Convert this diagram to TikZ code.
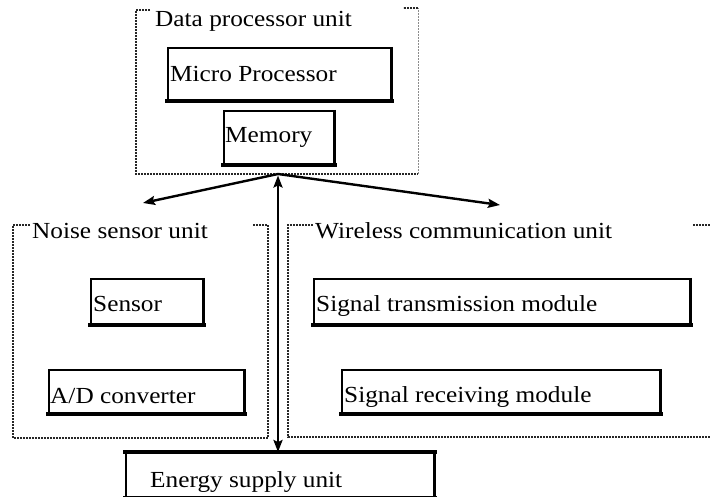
\documentclass[tikz,border=0pt]{standalone}
\usepackage{fontspec}
\setmainfont[FakeStretch=1.1]{Liberation Serif}
\usetikzlibrary{arrows.meta}
\begin{document}
\begin{tikzpicture}[x=1pt,y=-1pt,
  txt/.style={inner sep=0pt, anchor=base west, font=\fontsize{23}{27}\selectfont},
  box/.style={draw, line width=1.8pt, fill=white, anchor=north west, inner sep=0pt},
  heavy/.style={line width=3.6pt, line cap=rect},
  side/.style={line width=2.6pt},
  frame/.style={draw=black!85, line width=1.8pt, dash pattern=on 1.6pt off 1.4pt},
  faint/.style={draw=black!45, line width=1pt, dash pattern=on 1.6pt off 1.4pt},
  conn/.style={line width=2.4pt, draw=black},
  >={Stealth[length=12pt, width=9pt, inset=2pt]}]
\useasboundingbox (0,0) rectangle (710,497);
\clip (0,0) rectangle (710,497);

% --- dotted unit frames (open at the top) ---
\draw[frame] (150,10) -- (136,10) -- (136,174) -- (418,174);
\draw[faint] (418,174) -- (418,8);
\draw[frame] (418,8) -- (403,8);
\draw[frame] (30,225) -- (13,225) -- (13,438) -- (268,438) -- (268,225) -- (253,225);
\draw[frame] (313,225) -- (288,225) -- (288,437) -- (720,437) -- (720,225) -- (693,225);

\node[txt] (dpu) at (155,27) {Data processor unit};
\node[txt] (nsu) at (32,239) {Noise sensor unit};
\node[txt] (wcu) at (315,239) {Wireless communication unit};

% --- module boxes ---
\node[box, minimum width=223pt, minimum height=52pt] (micro) at (167,47) {};
\node[box, minimum width=110pt, minimum height=53pt] (memory) at (223,110) {};
\node[box, minimum width=112pt, minimum height=45pt] (sensor) at (90,278) {};
\node[box, minimum width=195pt, minimum height=43pt] (adc) at (48,369) {};
\node[box, minimum width=376pt, minimum height=45pt] (tx) at (313,278) {};
\node[box, minimum width=318pt, minimum height=43pt] (rx) at (341,369) {};
\node[box, minimum width=308pt, minimum height=44pt] (energy) at (125,452) {};

% heavier bottom and right edges of the boxes
\foreach \b in {micro,memory,sensor,adc,tx,rx,energy} {
  \draw[side] (\b.north east) -- (\b.south east);
  \draw[heavy] (\b.south west) -- (\b.south east);
}
\draw[heavy] (energy.north west) -- (energy.north east);

\node[txt] (microT) at ([shift={(3,35)}]micro.north west) {Micro Processor};
\node[txt] (memoryT) at ([shift={(2,33)}]memory.north west) {Memory};
\node[txt] (sensorT) at ([shift={(3,34)}]sensor.north west) {Sensor};
\node[txt] (adcT) at ([shift={(2,34)}]adc.north west) {A/D converter};
\node[txt] (txT) at ([shift={(3,34)}]tx.north west) {Signal transmission module};
\node[txt] (rxT) at ([shift={(3,33)}]rx.north west) {Signal receiving module};
\node[txt] (energyT) at ([shift={(25,35)}]energy.north west) {Energy supply unit};

% --- connectors ---
\coordinate (hub) at (278,174);
\coordinate (nsTip) at (143,203);
\coordinate (wcTip) at (500,205);
\draw[conn, ->] (hub) -- (nsTip);
\draw[conn, ->] (hub) -- (wcTip);
\draw[conn, <->, shorten <=1.5pt] (hub) -- (hub |- energy.north);
\end{tikzpicture}
\end{document}
